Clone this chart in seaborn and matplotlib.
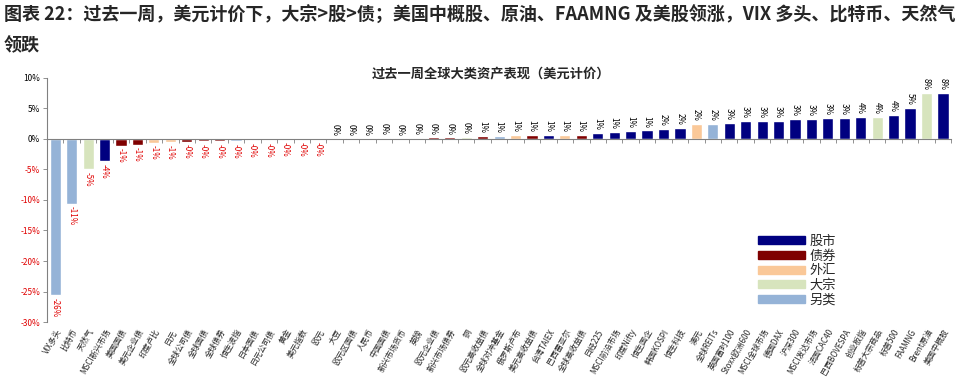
import matplotlib
matplotlib.use("Agg")
import matplotlib.pyplot as plt
import matplotlib.patches as mpatches
import seaborn as sns
import pandas as pd

# Data (weekly return, %, USD)
assets = [
    'VIX多头', '比特币', '天然气', 'MSCI新兴市场', '美国国债', '美元企业债', '印度卢比', '日元',
    '全球公司债', '全球国债', '全球债券', '恒生波指', '日本国债', '日元公司债', '黄金', '美元指数',
    '欧元', '大豆', '欧元区国债', '人民币', '中国国债', '新兴市场货币', '英镑', '欧元企业债',
    '新兴市场债券', '铜', '欧元高收益债', '全球对冲基金', '俄罗斯卢布', '美元高收益债', '台湾TAIEX',
    '巴西雷亚尔', '全球高收益债', '日经225', 'MSCI前沿市场', '印度Nifty', '恒生国企', '韩国KOSPI',
    '恒生科技', '澳元', '全球REITs', '英国富时100', 'Stoxx欧洲600', 'MSCI全球市场', '德国DAX',
    '沪深300', 'MSCI发达市场', '法国CAC40', '巴西BOVESPA', '创业板指', '标普大宗商品', '标普500',
    'FAAMNG', 'Brent原油', '美国中概股',
]
returns = [
    -25.6, -10.6, -4.9, -3.6, -1.1, -0.95, -0.6, -0.55,
    -0.45, -0.42, -0.38, -0.3, -0.2, -0.18, -0.05, -0.04,
    -0.03, 0.02, 0.1, 0.02, 0.15, 0.1, 0.15, 0.25,
    0.25, 0.3, 0.55, 0.55, 0.6, 0.6, 0.6,
    0.65, 0.7, 1.0, 1.1, 1.3, 1.4, 1.6,
    1.8, 2.5, 2.5, 2.6, 2.9, 3.0, 3.0,
    3.2, 3.2, 3.4, 3.4, 3.6, 3.6, 3.9,
    5.1, 7.6, 7.6,
]
value_text = (['-26%', '-11%', '-5%', '-4%'] + ['-1%'] * 4 + ['-0%'] * 9 + ['0%'] * 9
              + ['1%'] * 11 + ['2%'] * 4 + ['3%'] * 8 + ['4%'] * 3 + ['5%', '8%', '8%'])
classes = [
    '另类', '另类', '大宗', '股市', '债券', '债券', '外汇', '外汇',
    '债券', '债券', '债券', '另类', '债券', '债券', '大宗', '外汇',
    '外汇', '大宗', '债券', '外汇', '债券', '外汇', '外汇', '债券',
    '债券', '大宗', '债券', '另类', '外汇', '债券', '股市',
    '外汇', '债券', '股市', '股市', '股市', '股市', '股市',
    '股市', '外汇', '另类', '股市', '股市', '股市', '股市',
    '股市', '股市', '股市', '股市', '股市', '大宗', '股市',
    '股市', '大宗', '股市',
]
class_order = ['股市', '债券', '外汇', '大宗', '另类']
class_colors = ['#000080', '#7f0000', '#fac898', '#d7e4bd', '#95b3d7']

y_ticks = [10, 5, 0, -5, -10, -15, -20, -25, -30]


def main():
    df = pd.DataFrame({'asset': assets, 'ret': returns, 'cls': classes})
    palette = dict(zip(class_order, class_colors))

    sns.set_style('white')
    plt.rcParams['font.family'] = ['Noto Sans CJK SC', 'DejaVu Sans']
    plt.rcParams['axes.unicode_minus'] = False

    fig = plt.figure(figsize=(9.68, 3.78), dpi=100)
    ax = fig.add_axes([0.0486, 0.148, 0.934, 0.646])

    sns.barplot(data=df, x='asset', y='ret', hue='cls', palette=palette,
                dodge=False, width=0.68, legend=False, ax=ax, saturation=1)

    # value labels
    for i, (v, t) in enumerate(zip(df['ret'], value_text)):
        neg = t.startswith('-')
        ax.annotate(t, (i, v), xytext=(0, -2 if neg else 2), textcoords='offset points',
                    ha='center', va='top' if neg else 'bottom', rotation=270,
                    fontsize=5.8, color='#e00000' if neg else 'black')

    ax.set_ylim(-30, 10)
    ax.set_xlim(-0.5, len(assets) - 0.5)
    ax.set_yticks(y_ticks)
    ax.set_yticklabels([f'{t}%' for t in y_ticks], fontsize=6)
    for lab, t in zip(ax.get_yticklabels(), y_ticks):
        lab.set_color('#e00000' if t < 0 else 'black')
    ax.tick_params(axis='y', length=3, width=0.6, color='#808080', pad=2, left=True)
    ax.set_xlabel('')
    ax.set_ylabel('')

    # category axis on the zero line, labels at the bottom
    for s in ['top', 'right']:
        ax.spines[s].set_visible(False)
    ax.spines['left'].set_color('#808080')
    ax.spines['left'].set_linewidth(0.8)
    ax.spines['bottom'].set_position(('data', 0))
    ax.spines['bottom'].set_color('#808080')
    ax.spines['bottom'].set_linewidth(0.8)
    ax.set_xticks([i + 0.5 for i in range(len(assets))])
    ax.tick_params(axis='x', length=3, width=0.6, color='#808080', labelbottom=False, bottom=True)

    sec = ax.secondary_xaxis(0.0)
    sec.set_xticks(range(len(assets)))
    sec.set_xticklabels(assets, rotation=60, ha='right', rotation_mode='anchor', fontsize=5.8)
    sec.tick_params(length=0, pad=4)
    sec.spines['bottom'].set_visible(False)

    # legend
    handles = [mpatches.Patch(color=c, label=k) for k, c in zip(class_order, class_colors)]
    fig.legend(handles=handles, loc='upper left', bbox_to_anchor=(0.778, 0.392),
               frameon=False, fontsize=9.5, handlelength=3.5, handleheight=0.55,
               labelspacing=0.12, handletextpad=0.4, borderaxespad=0)

    fig.text(0.507, 0.806, '过去一周全球大类资产表现（美元计价）', ha='center', va='center',
             fontsize=9.5, fontweight='bold')
    fig.text(0.004, 0.985, '图表 22：过去一周，美元计价下，大宗>股>债；美国中概股、原油、FAAMNG 及美股领涨，VIX 多头、比特币、天然气\n领跌',
             ha='left', va='top', fontsize=13, fontweight='bold', linespacing=1.75)

    fig.savefig('out.png', dpi=100)


if __name__ == "__main__":
    main()
